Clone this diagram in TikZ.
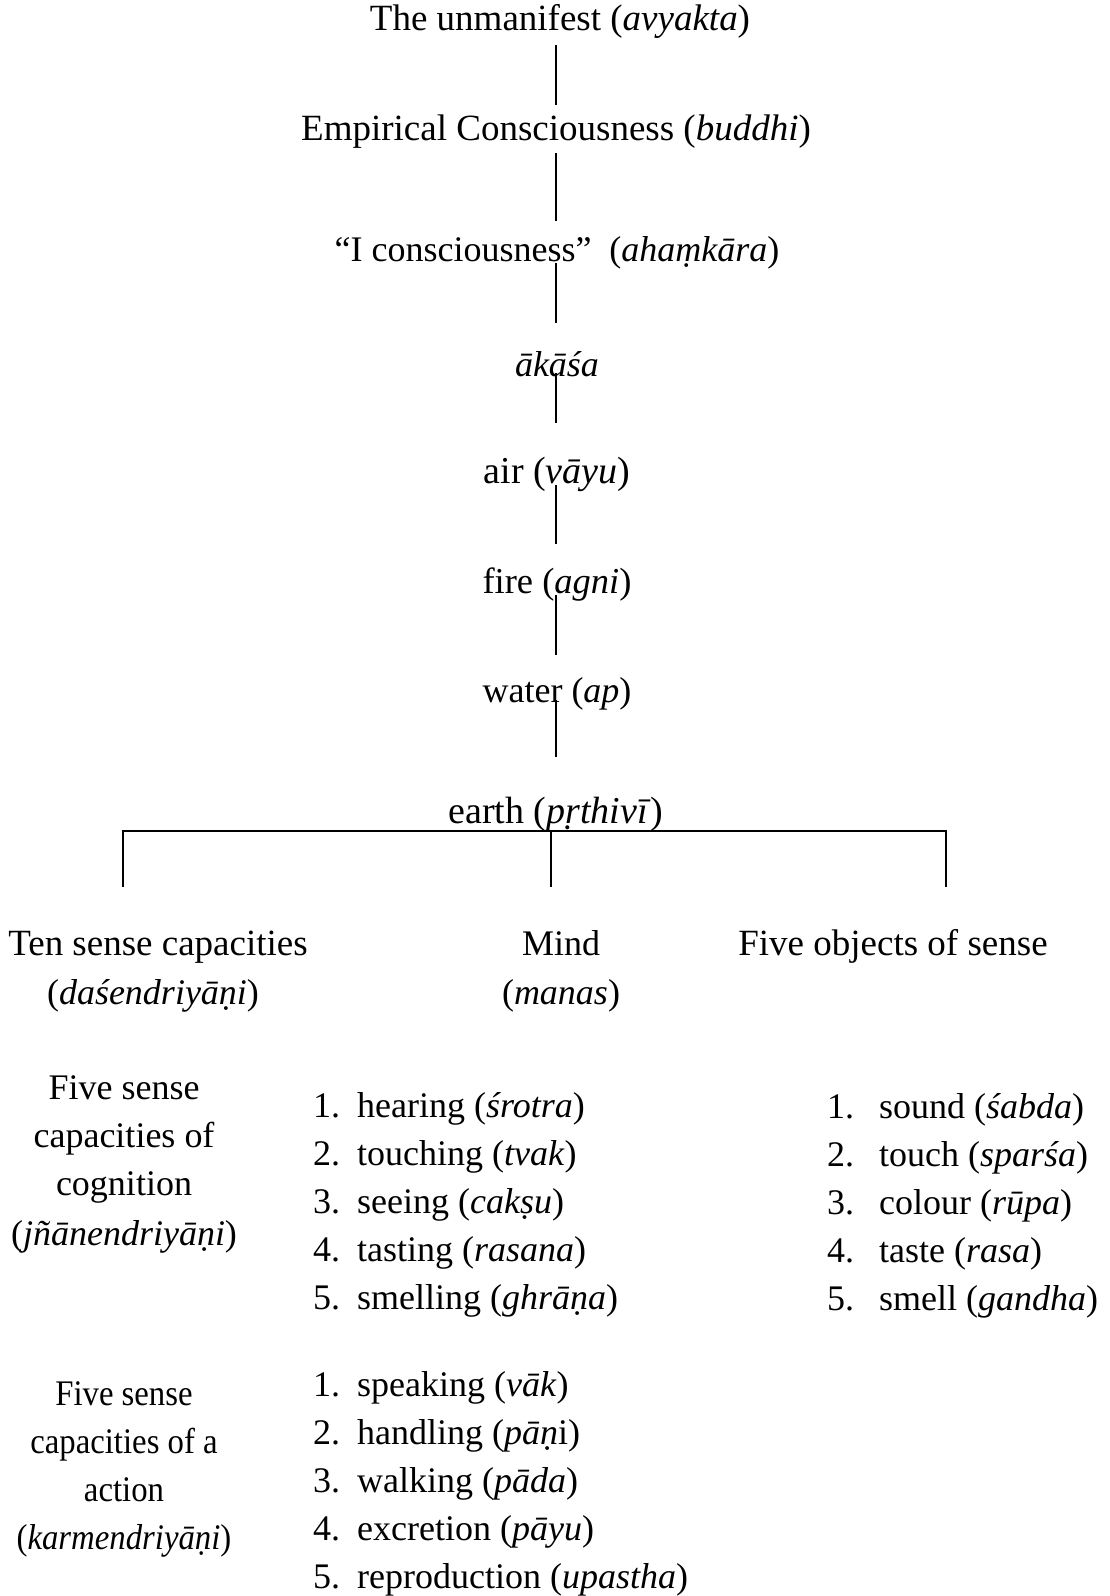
\documentclass[tikz,border=0pt]{standalone}
\usepackage{fontspec}
\setmainfont{Liberation Serif}
\usetikzlibrary{calc}
\begin{document}
\begin{tikzpicture}[x=1pt,y=-1pt,
  txt/.style={inner sep=0pt, font=\fontsize{36}{43}\selectfont, anchor=base},
  fs/.style={font=\fontsize{#1}{43}\selectfont},
  cnd/.style={font=\fontsize{36}{43}\selectfont\addfontfeatures{FakeStretch=0.91}},
  lst/.style={txt, anchor=base west},
  conn/.style={line width=2pt, black}]
\useasboundingbox (0,0) rectangle (1109,1596);
% chain
\node[txt, fs=37] (avy) at (560,30) {The unmanifest (\textit{avyakta})};
\node[txt, fs=37] (bud) at (556,140) {Empirical Consciousness (\textit{buddhi})};
\node[txt] (aha) at (557,261) {“I consciousness”\ \ (\textit{ahaṃkāra})};
\node[txt] (aka) at (557,376) {\textit{ākāśa}};
\node[txt, fs=38] (vay) at (557,483) {air (\textit{vāyu})};
\node[txt, fs=36.5] (agn) at (557,593) {fire (\textit{agni})};
\node[txt] (apn) at (557,702) {water (\textit{ap})};
\node[txt, fs=38] (prt) at (556,823) {earth (\textit{pṛthivī})};
\draw[conn] ($(avy.base -| bud.base)+(0,15)$) -- ($(bud.base)+(0,-35)$);
\draw[conn] ($(bud.base)+(0,13)$) -- ($(aha.base -| bud.base)+(0,-40)$);
\draw[conn] ($(aha.base -| bud.base)+(0,2)$) -- ($(aka.base -| bud.base)+(0,-53)$);
\draw[conn] ($(aka.base -| bud.base)+(0,-3)$) -- ($(vay.base -| bud.base)+(0,-60)$);
\draw[conn] ($(vay.base -| bud.base)+(0,2)$) -- ($(agn.base -| bud.base)+(0,-49)$);
\draw[conn] ($(agn.base -| bud.base)+(0,2)$) -- ($(apn.base -| bud.base)+(0,-47)$);
\draw[conn] ($(apn.base -| bud.base)+(0,-2)$) -- ($(prt.base -| bud.base)+(0,-66)$);
% bracket
\coordinate (jl) at (123,831);
\coordinate (jm) at (551,831);
\coordinate (jr) at (946,831);
\draw[conn, line width=2.5pt] ($(jl)+(-1,0)$) -- ($(jr)+(1,0)$);
\draw[conn] (jl) -- ++(0,56);
\draw[conn] (jm) -- ++(0,56);
\draw[conn] (jr) -- ++(0,56);
% three branches
\node[txt, fs=37] (ten) at (158,955) {Ten sense capacities};
\node[txt] (ten2) at (153,1004) {(\textit{daśendriyāṇi})};
\node[txt] (mnd) at (561,955) {Mind};
\node[txt] (mnd2) at (561,1004) {(\textit{manas})};
\node[txt, fs=37] (obj) at (893,955) {Five objects of sense};
% cognition block
\node[txt] (jn1) at (124,1099) {Five sense};
\node[txt] (jn2) at (124,1147) {capacities of};
\node[txt] (jn3) at (124,1195) {cognition};
\node[txt] (jn4) at (124,1245) {(\textit{jñānendriyāṇi})};
\node[lst] (c1n) at (313,1117) {1.};
\node[lst] (c1) at (357,1117) {hearing (\textit{śrotra})};
\node[lst] (c2n) at (313,1165) {2.};
\node[lst] (c2) at (357,1165) {touching (\textit{tvak})};
\node[lst] (c3n) at (313,1213) {3.};
\node[lst] (c3) at (357,1213) {seeing (\textit{cakṣu})};
\node[lst] (c4n) at (313,1261) {4.};
\node[lst] (c4) at (357,1261) {tasting (\textit{rasana})};
\node[lst] (c5n) at (313,1309) {5.};
\node[lst] (c5) at (357,1309) {smelling (\textit{ghrāṇa})};
% objects
\node[lst] (o1n) at (827,1118) {1.};
\node[lst] (o1) at (879,1118) {sound (\textit{śabda})};
\node[lst] (o2n) at (827,1166) {2.};
\node[lst] (o2) at (879,1166) {touch (\textit{sparśa})};
\node[lst] (o3n) at (827,1214) {3.};
\node[lst] (o3) at (879,1214) {colour (\textit{rūpa})};
\node[lst] (o4n) at (827,1262) {4.};
\node[lst] (o4) at (879,1262) {taste (\textit{rasa})};
\node[lst] (o5n) at (827,1310) {5.};
\node[lst] (o5) at (879,1310) {smell (\textit{gandha})};
% action block
\node[txt, cnd] (ka1) at (124,1405) {Five sense};
\node[txt, cnd] (ka2) at (124,1453) {capacities of a};
\node[txt, cnd] (ka3) at (124,1501) {action};
\node[txt, cnd] (ka4) at (124,1549) {(\textit{karmendriyāṇi})};
\node[lst] (a1n) at (313,1396) {1.};
\node[lst] (a1) at (357,1396) {speaking (\textit{vāk})};
\node[lst] (a2n) at (313,1444) {2.};
\node[lst] (a2) at (357,1444) {handling (\textit{pāṇ}i)};
\node[lst] (a3n) at (313,1492) {3.};
\node[lst] (a3) at (357,1492) {walking (\textit{pāda})};
\node[lst] (a4n) at (313,1540) {4.};
\node[lst] (a4) at (357,1540) {excretion (\textit{pāyu})};
\node[lst] (a5n) at (313,1588) {5.};
\node[lst] (a5) at (357,1588) {reproduction (\textit{upastha})};
\end{tikzpicture}
\end{document}
